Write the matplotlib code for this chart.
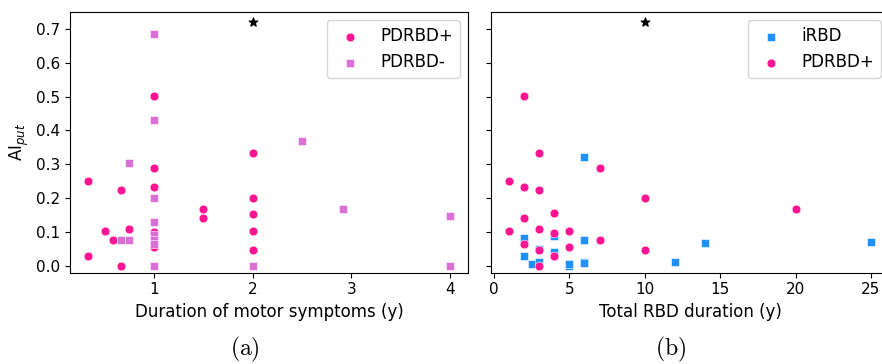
import numpy as np
import matplotlib
matplotlib.use("Agg")
import matplotlib.pyplot as plt

# (a) duration of motor symptoms
motor_pos_x = [1/3, 1/3, 0.5, 7/12, 2/3, 2/3, 0.75, 1, 1, 1, 1, 1, 1.5, 1.5, 2, 2, 2, 2, 2]
motor_pos_y = [0.25, 0.03, 0.103, 0.076, 0.224, 0.0, 0.109, 0.501, 0.288, 0.232, 0.1, 0.056,
               0.167, 0.142, 0.334, 0.201, 0.154, 0.103, 0.047]
motor_neg_x = [1, 1, 0.75, 1, 1, 1, 1, 1, 2/3, 0.75, 1, 2, 2.5, 35/12, 4, 4]
motor_neg_y = [0.685, 0.432, 0.305, 0.2, 0.13, 0.09, 0.077, 0.065, 0.077, 0.077, 0.0, 0.0,
               0.369, 0.167, 0.146, 0.0]
star_a = (2, 0.72)

# (b) total RBD duration
rbd_irbd_x = [6, 2, 4, 6, 2, 2.5, 3, 3, 4, 5, 5, 6, 6, 12, 14, 25]
rbd_irbd_y = [0.321, 0.083, 0.088, 0.076, 0.03, 0.007, 0.049, 0.012, 0.041, 0.0, 0.005,
              0.013, 0.01, 0.013, 0.069, 0.07]
rbd_pos_x = [2, 3, 1, 2, 3, 7, 10, 4, 2, 1, 3, 4, 5, 2, 3, 5, 7, 10, 4, 3, 20]
rbd_pos_y = [0.501, 0.334, 0.25, 0.232, 0.224, 0.288, 0.2, 0.155, 0.142, 0.103, 0.109,
             0.097, 0.103, 0.065, 0.047, 0.056, 0.076, 0.047, 0.03, 0.0, 0.167]
star_b = (10, 0.72)

pink = '#ff1493'
orchid = '#da70d6'
blue = '#1e90ff'
kw = dict(s=40, edgecolors='white', linewidths=0.4)

fig = plt.figure(figsize=(8.82, 3.64), dpi=100)
ax1 = fig.add_axes([0.0794, 0.2508, 0.4512, 0.7163])
ax2 = fig.add_axes([0.5567, 0.2508, 0.4512, 0.7163])

ax1.scatter(motor_pos_x, motor_pos_y, color=pink, marker='o', label='PDRBD+', **kw)
ax1.scatter(motor_neg_x, motor_neg_y, color=orchid, marker='s', label='PDRBD-', **kw)
ax1.scatter(*star_a, color='black', marker='*', s=40)
ax1.set_xlim(0.15, 4.18)
ax1.set_xticks([1, 2, 3, 4])
ax1.set_xlabel('Duration of motor symptoms (y)', fontsize=12)
ax1.set_ylabel(r'AI$_{put}$', fontsize=12)
ax1.legend(loc='upper right', fontsize=12)

ax2.scatter(rbd_irbd_x, rbd_irbd_y, color=blue, marker='s', label='iRBD', **kw)
ax2.scatter(rbd_pos_x, rbd_pos_y, color=pink, marker='o', label='PDRBD+', **kw)
ax2.scatter(*star_b, color='black', marker='*', s=40)
ax2.set_xlim(-0.2, 26.2)
ax2.set_xticks([0, 5, 10, 15, 20, 25])
ax2.set_xlabel('Total RBD duration (y)', fontsize=12)
ax2.legend(loc='upper right', fontsize=12)
ax2.tick_params(labelleft=False)

for ax in (ax1, ax2):
    ax.set_ylim(-0.02, 0.75)
    ax.set_yticks(np.arange(0, 0.71, 0.1))
    ax.tick_params(labelsize=11)

fig.text(0.278, 0.04, r'$(\mathrm{a})$', ha='center', va='center', fontsize=17,
         math_fontfamily='cm')
fig.text(0.760, 0.04, r'$(\mathrm{b})$', ha='center', va='center', fontsize=17,
         math_fontfamily='cm')

fig.savefig('out.png', dpi=100)
